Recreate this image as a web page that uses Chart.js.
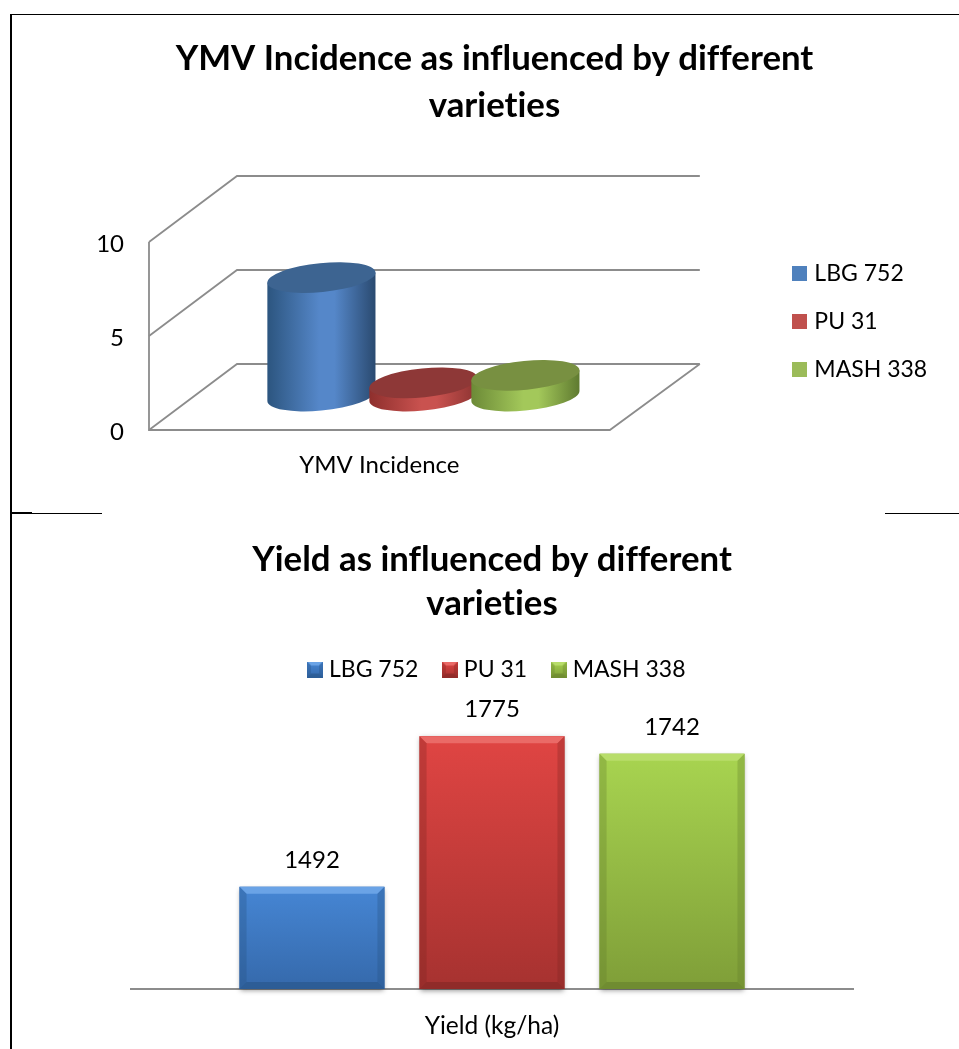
<!DOCTYPE html>
<html>
<head>
<meta charset="utf-8">
<title>YMV Incidence and Yield</title>
<script src="https://cdn.jsdelivr.net/npm/chart.js@4"></script>
<style>
html, body { margin: 0; padding: 0; background: #fff; overflow: hidden; }
#page { position: relative; width: 959px; height: 1049px; overflow: hidden; }
canvas { position: absolute; left: 0; }
.rule { position: absolute; background: #000; }
</style>
</head>
<body>
<div id="page">
    <div class="rule" style="left:10px;top:14px;width:949px;height:1px"></div>
    <div class="rule" style="left:10px;top:14px;width:2px;height:1035px"></div>
    <div class="rule" style="left:12px;top:512px;width:20px;height:2px"></div>
    <div class="rule" style="left:32px;top:513px;width:70px;height:1px"></div>
    <div class="rule" style="left:885px;top:513px;width:74px;height:1px"></div>
    <canvas id="incidence" width="959" height="510" style="top:0"></canvas>
    <canvas id="yield" width="959" height="534" style="top:515px"></canvas>
</div>
<script>
// dados
const varieties = ['LBG 752', 'PU 31', 'MASH 338'];
const incidenceCategories = ['YMV Incidence'];
const incidenceValues = [6.3, 0.7, 1.1];
const incidenceTicks = [0, 5, 10];
const yieldCategories = ['Yield (kg/ha)'];
const yieldValues = [1492, 1775, 1742];

const titleIncidence = ['YMV Incidence as influenced by different', 'varieties'];
const titleYield = ['Yield as influenced by different', 'varieties'];

const flatColors = ['#4f81bd', '#c0504d', '#9bbb59'];
const cylinderColors = [
    { left: '#2c557f', mid: '#5587c9', right: '#2a4a70', top: '#3d6491' },
    { left: '#8e2f2d', mid: '#c9524f', right: '#8c3331', top: '#8e3837' },
    { left: '#6c8a37', mid: '#a3c85a', right: '#5f7a30', top: '#789041' }
];
const bevelColors = [
    { top: '#4686d4', bottom: '#3569ab', light: '#6aa3e6', dark: '#23507f' },
    { top: '#e04543', bottom: '#a63230', light: '#ea6a67', dark: '#7a2322' },
    { top: '#a8d450', bottom: '#7f9e38', light: '#b8dd6a', dark: '#5f7a2a' }
];

const FONT = 'Lato, Carlito, "Open Sans", sans-serif';
const GRID = '#8c8c8c';
const DEPTH_X = 88;
const DEPTH_Y = 66;

// sem ligaduras, como no original
Chart.register({
    id: 'plainText',
    beforeUpdate(chart) { chart.ctx.textRendering = 'optimizeSpeed'; },
    beforeDraw(chart) { chart.ctx.textRendering = 'optimizeSpeed'; }
});

function drawBevel(ctx, x, y, w, h, c, b) {
    const g = ctx.createLinearGradient(0, y, 0, y + h);
    g.addColorStop(0, c.top);
    g.addColorStop(1, c.bottom);
    ctx.fillStyle = g;
    ctx.fillRect(x, y, w, h);

    function band(color, pts) {
        ctx.fillStyle = color;
        ctx.beginPath();
        ctx.moveTo(pts[0], pts[1]);
        ctx.lineTo(pts[2], pts[3]);
        ctx.lineTo(pts[4], pts[5]);
        ctx.lineTo(pts[6], pts[7]);
        ctx.closePath();
        ctx.fill();
    }
    band(c.light, [x, y, x + w, y, x + w - b, y + b, x + b, y + b]);
    ctx.globalAlpha = 0.5;
    band(c.dark, [x, y + h, x + w, y + h, x + w - b, y + h - b, x + b, y + h - b]);
    ctx.globalAlpha = 0.3;
    band(c.dark, [x, y, x + b, y + b, x + b, y + h - b, x, y + h]);
    band(c.dark, [x + w, y, x + w - b, y + b, x + w - b, y + h - b, x + w, y + h]);
    ctx.globalAlpha = 1;
}

function flatSwatch(color) {
    const c = document.createElement('canvas');
    c.width = 15;
    c.height = 15;
    const ctx = c.getContext('2d');
    ctx.fillStyle = color;
    ctx.fillRect(0, 0, 15, 15);
    return c;
}

function bevelSwatch(colors) {
    const c = document.createElement('canvas');
    c.width = 16;
    c.height = 16;
    drawBevel(c.getContext('2d'), 0, 0, 16, 16, colors, 4);
    return c;
}

function legendItems(chart, swatches) {
    return chart.data.datasets.map((ds, i) => ({
        text: ds.label,
        fillStyle: ds.backgroundColor,
        strokeStyle: ds.backgroundColor,
        lineWidth: 0,
        pointStyle: swatches[i],
        datasetIndex: i,
        hidden: false
    }));
}

function nudgeLegend(dx, dy) {
    return {
        id: 'nudgeLegend',
        afterLayout(chart) {
            chart.legend.left += dx;
            chart.legend.right += dx;
            chart.legend.top += dy;
            chart.legend.bottom += dy;
        }
    };
}

function drawCylinder(ctx, bar, c) {
    const halfW = bar.width * 0.53;
    const theta = -0.1;
    const b = 14.5;
    const a = Math.sqrt((halfW * halfW - b * b * Math.sin(theta) * Math.sin(theta)) / (Math.cos(theta) * Math.cos(theta)));
    const cx = bar.x + DEPTH_X / 2;
    const topY = bar.y - DEPTH_Y / 2 - 1;
    const baseY = bar.base - DEPTH_Y / 2 - 1;
    const tR = Math.atan(-(b / a) * Math.tan(theta));
    const tL = tR + Math.PI;
    const offX = a * Math.cos(tR) * Math.cos(theta) - b * Math.sin(tR) * Math.sin(theta);
    const offY = a * Math.cos(tR) * Math.sin(theta) + b * Math.sin(tR) * Math.cos(theta);

    const g = ctx.createLinearGradient(cx - halfW, 0, cx + halfW, 0);
    g.addColorStop(0, c.left);
    g.addColorStop(0.48, c.mid);
    g.addColorStop(0.62, c.mid);
    g.addColorStop(1, c.right);
    ctx.fillStyle = g;
    ctx.beginPath();
    ctx.moveTo(cx + offX, topY + offY);
    ctx.ellipse(cx, baseY, a, b, theta, tR, tL, false);
    ctx.lineTo(cx - offX, topY - offY);
    ctx.closePath();
    ctx.fill();

    ctx.fillStyle = c.top;
    ctx.beginPath();
    ctx.ellipse(cx, topY, a, b, theta, 0, Math.PI * 2);
    ctx.fill();
}

const walls3d = {
    id: 'walls3d',
    beforeDatasetsDraw(chart) {
        const ctx = chart.ctx;
        const y = chart.scales.y;
        const area = chart.chartArea;
        const backRight = area.right + DEPTH_X + 2;

        ctx.save();
        ctx.strokeStyle = GRID;
        ctx.lineWidth = 1.8;
        incidenceTicks.forEach(tick => {
            const py = y.getPixelForValue(tick);
            ctx.beginPath();
            ctx.moveTo(area.left, py);
            ctx.lineTo(area.left + DEPTH_X, py - DEPTH_Y);
            ctx.lineTo(backRight, py - DEPTH_Y);
            ctx.stroke();
        });
        ctx.beginPath();
        ctx.moveTo(area.left, y.getPixelForValue(10));
        ctx.lineTo(area.left, area.bottom);
        ctx.lineTo(area.right, area.bottom);
        ctx.lineTo(backRight, area.bottom - DEPTH_Y);
        ctx.stroke();

        chart.data.datasets.forEach((ds, i) => {
            drawCylinder(ctx, chart.getDatasetMeta(i).data[0], cylinderColors[i]);
        });
        ctx.restore();
        return false;
    }
};

const bevelBars = {
    id: 'bevelBars',
    beforeDatasetsDraw(chart) {
        const ctx = chart.ctx;
        chart.data.datasets.forEach((ds, i) => {
            const bar = chart.getDatasetMeta(i).data[0];
            const x = bar.x - bar.width / 2;
            const h = bar.base - bar.y;

            ctx.save();
            ctx.shadowColor = 'rgba(0,0,0,0.4)';
            ctx.shadowBlur = 5;
            ctx.shadowOffsetY = 2;
            ctx.fillStyle = bevelColors[i].bottom;
            ctx.fillRect(x, bar.y, bar.width, h);
            ctx.restore();

            drawBevel(ctx, x, bar.y, bar.width, h, bevelColors[i], 7);

            ctx.save();
            ctx.fillStyle = '#000';
            ctx.font = '24px ' + FONT;
            ctx.textAlign = 'center';
            ctx.textBaseline = 'middle';
            ctx.fillText(ds.data[0], bar.x, bar.y - 27);
            ctx.restore();
        });
        return false;
    }
};

new Chart(document.getElementById('incidence'), {
    type: 'bar',
    data: {
        labels: incidenceCategories,
        datasets: varieties.map((name, i) => ({
            label: name,
            data: [incidenceValues[i]],
            backgroundColor: flatColors[i]
        }))
    },
    plugins: [walls3d, nudgeLegend(-31, -5)],
    options: {
        responsive: false,
        animation: false,
        categoryPercentage: 0.664,
        barPercentage: 1,
        layout: { padding: { left: 32, right: 2 } },
        scales: {
            x: {
                grid: { display: false },
                border: { display: false },
                ticks: { color: '#000', font: { family: FONT, size: 24 }, padding: 13 },
                afterFit(scale) { scale.height = 80; }
            },
            y: {
                min: 0,
                max: 10,
                afterBuildTicks(scale) { scale.ticks = incidenceTicks.map(v => ({ value: v })); },
                grid: { display: false },
                border: { display: false },
                ticks: { color: '#000', font: { family: FONT, size: 24 }, padding: 17, labelOffset: 2 },
                afterFit(scale) { scale.width = 117; }
            },
            spacer: {
                position: 'right',
                grid: { display: false },
                border: { display: false },
                ticks: { display: false },
                afterFit(scale) { scale.width = 193; }
            }
        },
        plugins: {
            tooltip: { enabled: false },
            title: {
                display: true,
                text: titleIncidence,
                color: '#000',
                font: { family: FONT, size: 34.8, weight: 'bold', lineHeight: 47 / 34.8 },
                padding: { top: 35, bottom: 113 }
            },
            legend: {
                position: 'right',
                align: 'start',
                fullSize: false,
                labels: {
                    color: '#000',
                    font: { family: FONT, size: 23 },
                    usePointStyle: true,
                    pointStyleWidth: 6,
                    boxHeight: 15,
                    padding: 25,
                    generateLabels: chart => legendItems(chart, flatColors.map(flatSwatch))
                }
            }
        }
    }
});

new Chart(document.getElementById('yield'), {
    type: 'bar',
    data: {
        labels: yieldCategories,
        datasets: varieties.map((name, i) => ({
            label: name,
            data: [yieldValues[i]],
            base: 1300,
            backgroundColor: flatColors[i]
        }))
    },
    plugins: [bevelBars, nudgeLegend(7, 0)],
    options: {
        responsive: false,
        animation: false,
        categoryPercentage: 0.748,
        barPercentage: 0.805,
        layout: { padding: { left: 131, right: 106 } },
        scales: {
            x: {
                grid: { display: false },
                border: { display: true, color: GRID, width: 2 },
                ticks: { color: '#000', font: { family: FONT, size: 24.5 }, padding: 14 },
                afterFit(scale) { scale.height = 60; }
            },
            y: { display: false, min: 1300, max: 1860 }
        },
        plugins: {
            tooltip: { enabled: false },
            title: {
                display: true,
                text: titleYield,
                color: '#000',
                font: { family: FONT, size: 34.8, weight: 'bold', lineHeight: 44 / 34.8 },
                padding: { top: 23, bottom: 3 }
            },
            legend: {
                position: 'top',
                labels: {
                    color: '#000',
                    font: { family: FONT, size: 23 },
                    usePointStyle: true,
                    pointStyleWidth: 5,
                    boxHeight: 15,
                    padding: 29,
                    generateLabels: chart => legendItems(chart, bevelColors.map(bevelSwatch))
                }
            }
        }
    }
});
</script>
</body>
</html>
